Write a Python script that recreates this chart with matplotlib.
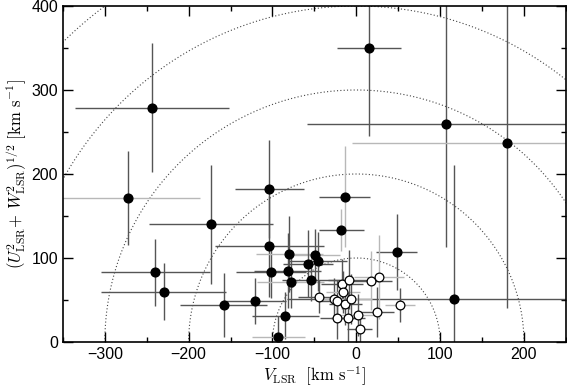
import numpy as np
import matplotlib
matplotlib.use('Agg')
import matplotlib.pyplot as plt
from matplotlib.ticker import MultipleLocator

plt.rcParams['font.family'] = ['Liberation Sans', 'DejaVu Sans']
plt.rcParams['mathtext.fontset'] = 'cm'

# filled: V, (U^2+W^2)^1/2, errors
v_f = np.array([15, -244, -272, -173, -240, -230, -158, -121, -104, -104, -102, -80, -82,
                -78, -85, -93, -18, -14, -49, -46, -58, -54, 48, 107, 180, 117])
y_f = np.array([350, 279, 171, 140, 83, 60, 44, 49, 182, 114, 83, 105, 85,
                71, 31, 6, 133, 173, 104, 96, 93, 74, 107, 260, 237, 51])
vx_f = np.array([38, 92, 86, 74, 65, 74, 52, 37, 41, 65, 42, 40, 40,
                 40, 40, 32, 27, 30, 30, 35, 30, 35, 24, 166, 185, 200])
ye_f = np.array([105, 77, 56, 71, 40, 34, 38, 27, 58, 60, 31, 45, 45,
                 30, 28, 25, 25, 60, 30, 35, 40, 25, 45, 147, 197, 160])
xgray_f = [0, 0, 1, 0, 0, 0, 0, 0, 0, 0, 0, 1, 0, 1, 0, 1, 0, 0, 1, 0, 0, 0, 0, 0, 1, 0]
ygray_f = [0, 0, 0, 0, 0, 0, 0, 0, 0, 0, 0, 0, 0, 0, 0, 0, 1, 1, 0, 0, 0, 0, 0, 0, 0, 0]

# open circles
v_o = np.array([-45, -27, -23, -17, -16, -9, -13, -6, -23, -10, 2, 4, 17, 27, 25, 52])
y_o = np.array([54, 51, 49, 69, 60, 74, 45, 51, 29, 29, 32, 15, 73, 77, 36, 44])
vx_o = np.array([25, 20, 20, 25, 20, 25, 20, 25, 20, 20, 20, 15, 25, 30, 20, 18])
ye_o = np.array([20, 25, 25, 30, 25, 35, 25, 30, 25, 30, 25, 20, 35, 50, 30, 20])
xgray_o = [0, 1, 0, 0, 1, 0, 0, 1, 0, 0, 1, 0, 0, 1, 0, 1]
ygray_o = [0, 0, 0, 0, 0, 0, 0, 0, 0, 0, 0, 0, 1, 1, 0, 0]

radii = [100, 200, 300, 400, 500]

dark = '#555555'
light = '#b8b8b8'

fig = plt.figure(figsize=(5.67, 3.91), dpi=100)
ax = fig.add_axes([0.111, 0.1253, 0.887, 0.8594])

t = np.linspace(0, np.pi, 600)
for r in radii:
    ax.plot(r*np.cos(t), r*np.sin(t), ls=(0, (1, 2)), color='#444444', lw=0.8, zorder=1)

def bars(v, y, vx, ye, xg, yg):
    for i in range(len(v)):
        ax.errorbar(v[i], y[i], xerr=vx[i], fmt='none', ecolor=light if xg[i] else dark,
                    elinewidth=1.0, capsize=0, zorder=2)
        ax.errorbar(v[i], y[i], yerr=ye[i], fmt='none', ecolor=light if yg[i] else dark,
                    elinewidth=1.0, capsize=0, zorder=2)

bars(v_f, y_f, vx_f, ye_f, xgray_f, ygray_f)
bars(v_o, y_o, vx_o, ye_o, xgray_o, ygray_o)

ax.plot(v_f, y_f, 'o', ms=6.3, color='black', zorder=3)
ax.plot(v_o, y_o, 'o', ms=6.3, mfc='white', mec='black', mew=0.9, zorder=4)

ax.set_xlim(-350, 250)
ax.set_ylim(0, 400)
ax.xaxis.set_major_locator(MultipleLocator(100))
ax.xaxis.set_minor_locator(MultipleLocator(50))
ax.yaxis.set_major_locator(MultipleLocator(100))
ax.yaxis.set_minor_locator(MultipleLocator(50))
ax.tick_params(which='both', direction='in', top=True, right=True, labelsize=11.5, width=1)
ax.tick_params(which='major', length=7.5)
ax.tick_params(which='minor', length=3.8)
for s in ax.spines.values():
    s.set_linewidth(1.2)
ax.set_xticklabels([]) if False else None

ax.set_xlabel(r'$V_{\rm LSR}\ \ [\rm km\ s^{-1}]$', fontsize=12, labelpad=2)
ax.set_ylabel(r'$(U^2_{\rm LSR}\!+\,W^2_{\rm LSR})^{1/2}\ [\rm km\ s^{-1}]$', fontsize=12, labelpad=2)

fig.savefig('out.png', dpi=100)
